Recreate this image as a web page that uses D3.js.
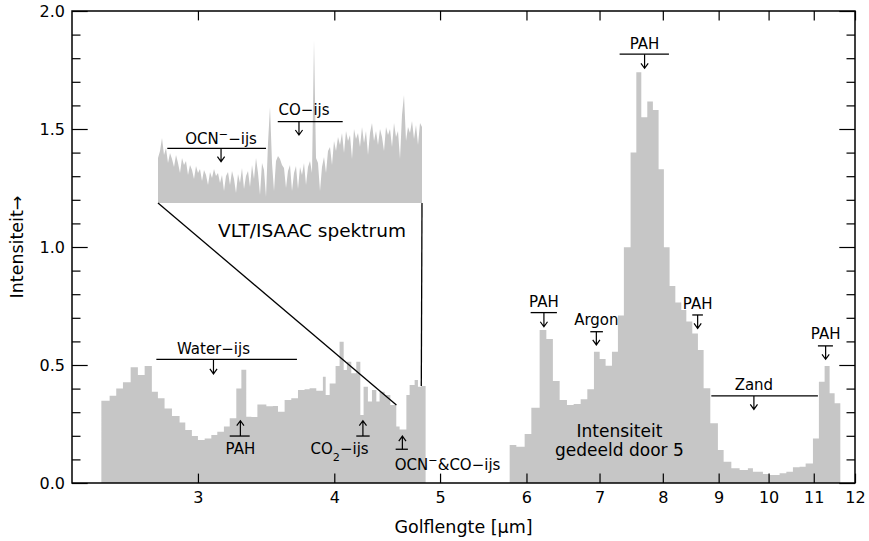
<!DOCTYPE html>
<html>
<head>
<meta charset="utf-8">
<script src="https://cdn.jsdelivr.net/npm/d3@7"></script>
<style>
body { margin: 0; background: #fff; }
text { font-family: "DejaVu Sans", sans-serif; fill: #000; }
</style>
</head>
<body>
<script>
// ISO spectrum, binned: left edges of each bin (last value = right edge) and intensity
var edges1 = [2.447, 2.490, 2.525, 2.561, 2.603, 2.643, 2.681, 2.722, 2.757, 2.796, 2.840, 2.886,
    2.921, 2.962, 3.000, 3.043, 3.086, 3.125, 3.169, 3.208, 3.253, 3.288, 3.322, 3.358, 3.401,
    3.466, 3.514, 3.552, 3.602, 3.653, 3.705, 3.757, 3.797, 3.851, 3.905, 3.928, 3.961, 4.011,
    4.045, 4.080, 4.108, 4.146, 4.190, 4.226, 4.255, 4.294, 4.331, 4.371, 4.401, 4.448, 4.502,
    4.559, 4.591, 4.657, 4.689, 4.739, 4.772, 4.806, 4.850];
var values1 = [0.349, 0.370, 0.400, 0.427, 0.490, 0.458, 0.496, 0.387, 0.359, 0.316, 0.284, 0.256,
    0.225, 0.199, 0.182, 0.189, 0.203, 0.217, 0.239, 0.274, 0.400, 0.480, 0.281, 0.280, 0.333,
    0.325, 0.326, 0.302, 0.352, 0.359, 0.394, 0.397, 0.401, 0.391, 0.450, 0.373, 0.422, 0.496,
    0.599, 0.479, 0.514, 0.465, 0.514, 0.288, 0.408, 0.345, 0.394, 0.345, 0.387, 0.373, 0.330,
    0.239, 0.227, 0.373, 0.415, 0.436, 0.408, 0.411];

// second part (intensity divided by 5)
var edges2 = [5.791, 5.873, 5.977, 6.062, 6.169, 6.257, 6.344, 6.435, 6.535, 6.628, 6.727, 6.822,
    6.918, 7.002, 7.090, 7.186, 7.277, 7.369, 7.474, 7.565, 7.645, 7.742, 7.834, 7.929, 8.018,
    8.115, 8.214, 8.318, 8.407, 8.513, 8.615, 8.719, 8.843, 8.986, 9.095, 9.244, 9.407, 9.573,
    9.675, 9.881, 10.007, 10.235, 10.382, 10.527, 10.676, 10.813, 10.981, 11.120, 11.255, 11.374,
    11.495, 11.634];
var values2 = [0.161, 0.154, 0.208, 0.319, 0.648, 0.610, 0.432, 0.352, 0.331, 0.335, 0.355, 0.397,
    0.556, 0.525, 0.497, 0.556, 0.710, 0.999, 1.400, 1.740, 1.550, 1.616, 1.581, 1.329, 0.999,
    0.835, 0.765, 0.733, 0.684, 0.634, 0.564, 0.401, 0.253, 0.140, 0.090, 0.062, 0.055, 0.062,
    0.048, 0.038, 0.034, 0.041, 0.048, 0.067, 0.069, 0.083, 0.189, 0.429, 0.496, 0.380, 0.338];

// VLT/ISAAC spectrum (relative flux above the continuum), 4.56 - 4.81 um
var insetRange = [4.56, 4.81];
var insetFlux = [0.45, 0.52, 0.65, 0.48, 0.55, 0.40, 0.50, 0.44, 0.36, 0.48, 0.40, 0.30, 0.45,
    0.38, 0.42, 0.28, 0.38, 0.33, 0.24, 0.37, 0.30, 0.34, 0.22, 0.33, 0.28, 0.18, 0.31, 0.25,
    0.34, 0.27, 0.30, 0.20, 0.28, 0.12, 0.27, 0.31, 0.18, 0.32, 0.24, 0.10, 0.29, 0.20, 0.35,
    0.14, 0.27, 0.32, 0.16, 0.38, 0.24, 0.45, 0.30, 0.08, 0.40, 0.33, 0.06, 0.60, 0.96, 0.40,
    0.12, 0.42, 0.47, 0.44, 0.38, 0.35, 0.15, 0.32, 0.38, 0.12, 0.30, 0.37, 0.14, 0.36, 0.28,
    0.40, 0.18, 0.36, 0.42, 0.30, 1.63, 0.45, 0.40, 0.12, 0.36, 0.46, 0.30, 0.52, 0.56, 0.38,
    0.62, 0.52, 0.66, 0.58, 0.70, 0.50, 0.72, 0.62, 0.68, 0.44, 0.74, 0.64, 0.70, 0.56, 0.76,
    0.60, 0.72, 0.48, 0.70, 0.80, 0.62, 0.72, 0.58, 0.74, 0.66, 0.52, 0.76, 0.68, 0.74, 0.56,
    0.80, 0.66, 0.72, 0.44, 0.88, 1.08, 0.62, 0.76, 0.70, 0.82, 0.64, 0.78, 0.58, 0.80, 0.76];

var xTicks = [3, 4, 5, 6, 7, 8, 9, 10, 11, 12];
var yTicks = [0.0, 0.5, 1.0, 1.5, 2.0];
var yMinor = [0.1, 0.2, 0.3, 0.4, 0.6, 0.7, 0.8, 0.9, 1.1, 1.2, 1.3, 1.4, 1.6, 1.7, 1.8, 1.9];

// feature labels (wavelength / intensity of bar, arrow tip and text)
var downMarks = [
    {label: [["Water−ijs"]], x0: 2.748, x1: 3.697, xa: 3.10, yl: 0.524, yt: 0.462, ty: 0.568},
    {label: [["PAH"]], x0: 6.053, x1: 6.398, xa: 6.225, yl: 0.722, yt: 0.662, ty: 0.768},
    {label: [["Argon"]], x0: 6.865, x1: 7.050, xa: 6.953, yl: 0.641, yt: 0.585, ty: 0.694},
    {label: [["PAH"]], x0: 7.303, x1: 8.104, xa: 7.698, yl: 1.817, yt: 1.757, ty: 1.863},
    {label: [["PAH"]], x0: 8.513, x1: 8.706, xa: 8.61, yl: 0.712, yt: 0.655, ty: 0.761},
    {label: [["Zand"]], x0: 8.862, x1: 11.097, xa: 9.695, yl: 0.369, yt: 0.312, ty: 0.418},
    {label: [["PAH"]], x0: 11.097, x1: 11.454, xa: 11.279, yl: 0.581, yt: 0.524, ty: 0.631}
];
var upMarks = [
    {label: [["PAH"]], x0: 3.208, x1: 3.346, xa: 3.281, yl: 0.199, yt: 0.264, tx: 3.281, ty: 0.144},
    {label: [["CO"], ["2", "sub"], ["−ijs"]], x0: 4.190, x1: 4.310, xa: 4.249, yl: 0.199, yt: 0.264, tx: 4.045, ty: 0.144},
    {label: [["OCN"], ["−", "super"], ["&CO−ijs"]], x0: 4.553, x1: 4.672, xa: 4.618, yl: 0.143, yt: 0.199, tx: 5.08, ty: 0.076}
];
var insetMarks = [
    {label: [["OCN"], ["−", "super"], ["−ijs"]], x0: 4.5688, x1: 4.6623, xa: 4.6197, yl: 0.547, yt: 0.413, tx: 4.6197, ty: 0.647},
    {label: [["CO−ijs"]], x0: 4.6734, x1: 4.7349, xa: 4.6935, yl: 0.813, yt: 0.68, tx: 4.6983, ty: 0.93}
];

var w = 869, h = 541;
var margin = {left: 72, right: 14, top: 11, bottom: 58};
var gray = "#c6c6c6";

var svg = d3.select("body").append("svg")
    .attr("width", w)
    .attr("height", h);

var x = d3.scaleLog()
    .domain([2.3, 12])
    .range([margin.left, w - margin.right]);

var y = d3.scaleLinear()
    .domain([0, 2])
    .range([h - margin.bottom, margin.top]);

function steps(edges, values) {
    var pts = values.map(function(v, i) { return [edges[i], v]; });
    pts.push([edges[edges.length - 1], values[values.length - 1]]);
    return pts;
}

var area = d3.area()
    .curve(d3.curveStepAfter)
    .x(function(d) { return x(d[0]); })
    .y0(y(0))
    .y1(function(d) { return y(d[1]); });

svg.selectAll("path.spec")
    .data([steps(edges1, values1), steps(edges2, values2)])
    .enter()
    .append("path")
    .attr("class", "spec")
    .attr("d", area)
    .attr("fill", gray);

// inset with the VLT spectrum
var ix = d3.scaleLinear().domain(insetRange).range([158, 422]);
var iy = d3.scaleLinear().domain([0, 1.63]).range([203, 40]);

var insetArea = d3.area()
    .x(function(d, i) { return ix(insetRange[0] + i * (insetRange[1] - insetRange[0]) / (insetFlux.length - 1)); })
    .y0(iy(0))
    .y1(function(d) { return iy(d); });

svg.append("path")
    .datum(insetFlux)
    .attr("d", insetArea)
    .attr("fill", gray);

// connector lines between inset and the ISO spectrum
svg.append("line")
    .attr("x1", ix(insetRange[0])).attr("y1", iy(0))
    .attr("x2", x(insetRange[0])).attr("y2", y(0.330))
    .attr("stroke", "#000").attr("stroke-width", 1.3);
svg.append("line")
    .attr("x1", ix(insetRange[1])).attr("y1", iy(0))
    .attr("x2", x(4.806)).attr("y2", y(0.411))
    .attr("stroke", "#000").attr("stroke-width", 1.3);

svg.append("text")
    .attr("x", 312).attr("y", 230)
    .attr("dy", "0.36em")
    .attr("text-anchor", "middle")
    .style("font-size", "18.5px")
    .text("VLT/ISAAC spektrum");

function richText(t, parts) {
    parts.forEach(function(p) {
        var s = t.append("tspan").text(p[0]);
        if (p[1]) s.attr("baseline-shift", p[1]).style("font-size", "75%");
    });
}

function drawDown(list, sx, sy) {
    list.forEach(function(d) {
        var xa = sx(d.xa), yl = sy(d.yl), yt = sy(d.yt);
        svg.append("line")
            .attr("x1", sx(d.x0)).attr("x2", sx(d.x1))
            .attr("y1", yl).attr("y2", yl)
            .attr("stroke", "#000").attr("stroke-width", 1.3);
        svg.append("path")
            .attr("d", "M" + xa + "," + yl + "V" + yt + "M" + (xa - 3.6) + "," + (yt - 5) + "L" + xa + "," + yt + "L" + (xa + 3.6) + "," + (yt - 5))
            .attr("fill", "none").attr("stroke", "#000").attr("stroke-width", 1.2);
        var t = svg.append("text")
            .attr("x", sx(d.tx || d.xa)).attr("y", sy(d.ty))
            .attr("dy", "0.36em")
            .attr("text-anchor", "middle")
            .style("font-size", "15px");
        richText(t, d.label);
    });
}

function drawUp(list, sx, sy) {
    list.forEach(function(d) {
        var xa = sx(d.xa), yl = sy(d.yl), yt = sy(d.yt);
        svg.append("line")
            .attr("x1", sx(d.x0)).attr("x2", sx(d.x1))
            .attr("y1", yl).attr("y2", yl)
            .attr("stroke", "#000").attr("stroke-width", 1.3);
        svg.append("path")
            .attr("d", "M" + xa + "," + yl + "V" + yt + "M" + (xa - 3.6) + "," + (yt + 5) + "L" + xa + "," + yt + "L" + (xa + 3.6) + "," + (yt + 5))
            .attr("fill", "none").attr("stroke", "#000").attr("stroke-width", 1.2);
        var t = svg.append("text")
            .attr("x", sx(d.tx)).attr("y", sy(d.ty))
            .attr("dy", "0.36em")
            .attr("text-anchor", "middle")
            .style("font-size", "15px");
        richText(t, d.label);
    });
}

drawDown(downMarks, x, y);
drawUp(upMarks, x, y);
drawDown(insetMarks, ix, iy);

svg.append("text")
    .attr("x", x(7.30)).attr("y", y(0.22))
    .attr("dy", "0.36em")
    .attr("text-anchor", "middle")
    .style("font-size", "17px")
    .text("Intensiteit");
svg.append("text")
    .attr("x", x(7.30)).attr("y", y(0.14))
    .attr("dy", "0.36em")
    .attr("text-anchor", "middle")
    .style("font-size", "17px")
    .text("gedeeld door 5");

// axes, ticks pointing inwards on all four sides
var x0 = margin.left, x1 = w - margin.right, y0 = h - margin.bottom, y1 = margin.top;

function styleAxis(g) {
    g.select(".domain").remove();
    g.selectAll(".tick line").attr("stroke", "#000").attr("stroke-width", 1.2);
    g.selectAll("text").attr("font-family", "DejaVu Sans, sans-serif").attr("font-size", 16).attr("fill", "#000");
}

svg.append("g")
    .attr("transform", "translate(0," + y0 + ")")
    .call(d3.axisBottom(x).tickValues(xTicks).tickFormat(d3.format("d")).tickSizeInner(-9.4).tickSizeOuter(0).tickPadding(9))
    .call(styleAxis);
svg.append("g")
    .attr("transform", "translate(0," + y1 + ")")
    .call(d3.axisTop(x).tickValues(xTicks).tickFormat("").tickSizeInner(-9.4).tickSizeOuter(0))
    .call(styleAxis);

svg.append("g")
    .attr("transform", "translate(" + x0 + ",0)")
    .call(d3.axisLeft(y).tickValues(yTicks).tickFormat(d3.format(".1f")).tickSizeInner(-15.7).tickSizeOuter(0).tickPadding(7))
    .call(styleAxis);
svg.append("g")
    .attr("transform", "translate(" + x0 + ",0)")
    .call(d3.axisLeft(y).tickValues(yMinor).tickFormat("").tickSizeInner(-8.5).tickSizeOuter(0))
    .call(styleAxis);
svg.append("g")
    .attr("transform", "translate(" + x1 + ",0)")
    .call(d3.axisRight(y).tickValues(yTicks).tickFormat("").tickSizeInner(-15.7).tickSizeOuter(0))
    .call(styleAxis);
svg.append("g")
    .attr("transform", "translate(" + x1 + ",0)")
    .call(d3.axisRight(y).tickValues(yMinor).tickFormat("").tickSizeInner(-8.5).tickSizeOuter(0))
    .call(styleAxis);

svg.append("rect")
    .attr("x", x0).attr("y", y1)
    .attr("width", x1 - x0).attr("height", y0 - y1)
    .attr("fill", "none")
    .attr("stroke", "#000")
    .attr("stroke-width", 1.5);

// axis titles
svg.append("text")
    .attr("x", (x0 + x1) / 2).attr("y", 527)
    .attr("dy", "0.36em")
    .attr("text-anchor", "middle")
    .style("font-size", "17.5px")
    .text("Golflengte [μm]");

svg.append("text")
    .attr("transform", "translate(17," + ((y0 + y1) / 2) + ") rotate(-90)")
    .attr("dy", "0.36em")
    .attr("text-anchor", "middle")
    .style("font-size", "17.5px")
    .text("Intensiteit→");
</script>
</body>
</html>
